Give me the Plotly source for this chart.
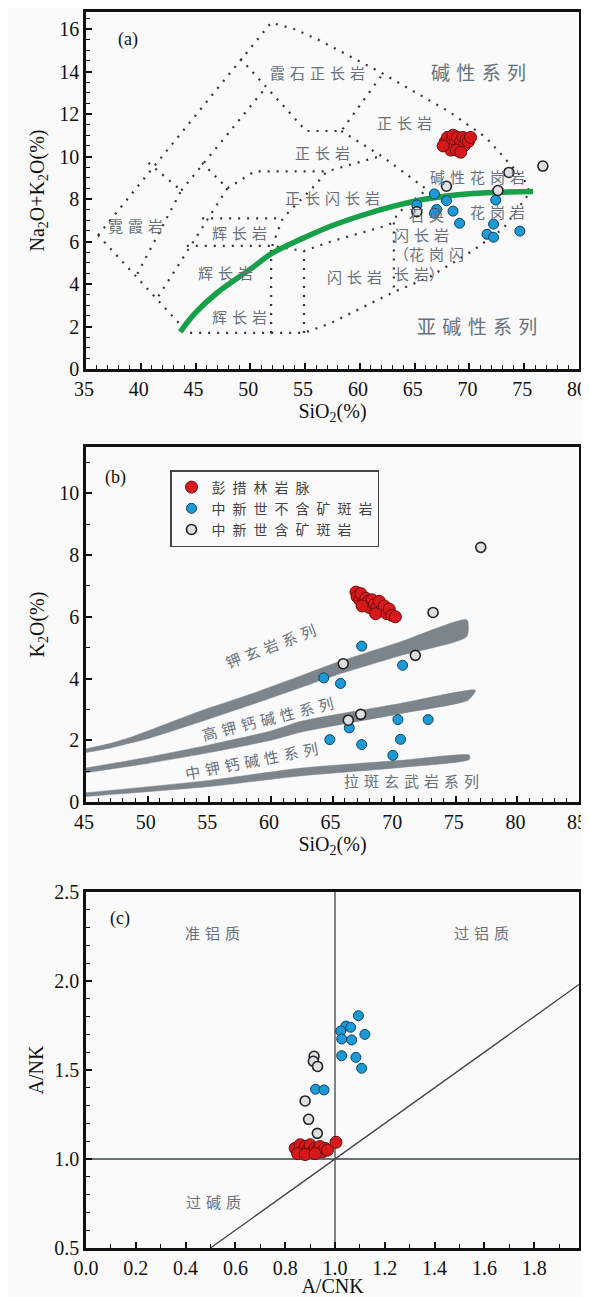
import plotly.graph_objects as go

# ---------------- Panel (a) TAS data ----------------
a_red_x = [67.8, 68.0, 68.2, 68.4, 68.5, 68.7, 68.9, 69.0, 69.2, 69.4, 69.5, 69.7, 69.9, 70.1, 68.3, 68.8, 69.2, 67.6]
a_red_y = [10.7, 10.9, 10.5, 10.8, 11.0, 10.6, 10.9, 10.4, 10.7, 10.9, 10.5, 10.8, 10.7, 10.9, 10.3, 10.3, 10.2, 10.5]
a_blue_x = [66.8, 65.2, 67.9, 67.0, 66.8, 68.5, 69.1, 72.4, 72.2, 71.6, 72.2, 74.6]
a_blue_y = [8.24, 7.72, 7.92, 7.51, 7.33, 7.43, 6.86, 7.95, 6.82, 6.34, 6.2, 6.49]
a_gray_x = [67.9, 72.6, 65.2, 73.6, 76.7]
a_gray_y = [8.6, 8.4, 7.4, 9.25, 9.55]

# TAS field boundaries (Wilson 1989, after Cox et al. 1979)
tas_lines = [
    [(36.1, 6.3), (51.9, 16.3), (54.0, 16.0), (56.3, 15.47), (62.1, 13.9), (68.2, 12.09),
     (71.5, 10.9), (73.4, 9.8), (75.0, 8.9), (75.5, 8.3)],
    [(36.1, 6.3), (44.3, 1.7), (54.9, 1.7), (57.3, 2.15), (63.2, 3.65), (66.4, 4.34),
     (70.4, 5.6), (73.1, 6.62), (75.5, 8.3)],
    [(40.7, 9.7), (43.7, 8.4), (39.6, 4.4)],
    [(43.7, 8.4), (51.5, 13.3)],
    [(49.1, 14.6), (55.1, 11.2), (58.3, 11.2), (62.1, 13.9)],
    [(45.6, 9.7), (47.9, 8.5), (50.4, 9.3), (56.8, 9.3)],
    [(47.9, 8.5), (41.4, 3.25)],
    [(45.6, 7.09), (52.95, 7.09)],
    [(44.2, 5.79), (52.0, 5.79), (54.9, 5.55), (57.3, 5.99), (62.1, 6.7), (63.1, 6.9)],
    [(51.9, 1.7), (51.9, 5.79)],
    [(54.9, 1.7), (54.9, 5.55)],
    [(63.1, 6.9), (63.1, 3.65)],
    [(52.0, 5.79), (52.95, 7.09), (56.0, 8.7), (57.0, 9.3), (62.1, 10.05)],
    [(58.3, 11.2), (62.1, 9.98), (66.1, 8.45), (63.4, 7.3), (63.1, 6.9)],
]
alk_curve_x = [43.6, 45.0, 47.0, 50.0, 52.0, 55.0, 57.5, 60.0, 63.0, 66.0, 70.0, 75.8]
alk_curve_y = [1.75, 2.65, 3.6, 4.7, 5.45, 6.2, 6.75, 7.2, 7.65, 8.0, 8.25, 8.35]

# ---------------- Panel (b) SiO2-K2O data ----------------
b_red_x = [66.9, 67.0, 67.2, 67.3, 67.5, 67.7, 67.9, 68.0, 68.2, 68.4, 68.6, 68.8, 69.0, 69.2, 69.4, 69.6, 69.8, 70.1, 67.4, 68.5]
b_red_y = [6.8, 6.65, 6.55, 6.75, 6.45, 6.6, 6.5, 6.3, 6.55, 6.4, 6.3, 6.5, 6.2, 6.35, 6.1, 6.25, 6.05, 6.0, 6.35, 6.1]
b_blue_x = [67.37, 70.69, 64.29, 65.65, 70.31, 72.76, 66.36, 64.78, 67.37, 70.52, 69.9]
b_blue_y = [5.05, 4.43, 4.02, 3.84, 2.67, 2.67, 2.40, 2.02, 1.86, 2.03, 1.51]
b_gray_x = [77.03, 73.16, 71.72, 65.87, 66.28, 67.29]
b_gray_y = [8.25, 6.14, 4.75, 4.48, 2.65, 2.84]

band1_up = [(45, 1.72), (47, 1.9), (48.5, 2.08), (50, 2.3), (54.3, 2.95), (58.4, 3.5), (62.5, 4.1), (65.2, 4.5), (70.6, 5.2), (75.9, 5.9)]
band1_lo = [(45, 1.6), (47, 1.75), (48.5, 1.9), (50, 2.05), (54.3, 2.6), (58.4, 3.15), (62.5, 3.72), (65.2, 4.1), (70.6, 4.75), (75.9, 5.36)]
band2_up = [(45, 1.1), (50, 1.45), (55, 1.85), (60, 2.3), (62.5, 2.62), (70.6, 3.2), (76.6, 3.62)]
band2_lo = [(45, 0.95), (50, 1.25), (55, 1.6), (60, 2.0), (62.5, 2.27), (70.6, 2.87), (76.0, 3.3)]
band3_up = [(45, 0.3), (55, 0.7), (62.5, 1.1), (70.6, 1.35), (76.1, 1.52)]
band3_lo = [(45, 0.18), (55, 0.5), (62.5, 0.85), (70.6, 1.12), (76.1, 1.38)]

# ---------------- Panel (c) A/CNK-A/NK data ----------------
c_red_x = [0.84, 0.86, 0.87, 0.88, 0.89, 0.90, 0.91, 0.92, 0.93, 0.94, 0.95, 0.96, 0.85, 0.88, 0.92, 0.97, 1.004]
c_red_y = [1.06, 1.08, 1.04, 1.07, 1.05, 1.08, 1.04, 1.06, 1.05, 1.07, 1.04, 1.06, 1.03, 1.025, 1.03, 1.05, 1.094]
c_blue_x = [1.094, 1.044, 1.063, 1.023, 1.12, 1.027, 1.067, 1.027, 1.084, 1.107, 0.922, 0.956]
c_blue_y = [1.805, 1.747, 1.74, 1.719, 1.70, 1.674, 1.669, 1.58, 1.571, 1.51, 1.392, 1.388]
c_gray_x = [0.916, 0.913, 0.93, 0.88, 0.894, 0.929]
c_gray_y = [1.577, 1.549, 1.52, 1.326, 1.223, 1.144]

names = ["彭\u2002措\u2002林\u2002岩\u2002脉", "中\u2002新\u2002世\u2002不\u2002含\u2002矿\u2002斑\u2002岩", "中\u2002新\u2002世\u2002含\u2002矿\u2002斑\u2002岩"]

RED = dict(color="#d7191c", line=dict(color="#6b0d0d", width=1))
BLUE = dict(color="#1b9ad6", line=dict(color="#0d4060", width=1))
GRAY = dict(color="#dde1e4", line=dict(color="#222222", width=1.6))

SERIF = "Liberation Serif, Times New Roman, serif"
CJK = "Noto Sans CJK SC"
LBL = "#68717a"
sp = "\u2004"

def spaced(s):
    return sp.join(list(s))

fig = go.Figure()

# ---- (a) ----
lx, ly = [], []
for seg in tas_lines:
    for p in seg:
        lx.append(p[0]); ly.append(p[1])
    lx.append(None); ly.append(None)
fig.add_trace(go.Scatter(x=lx, y=ly, mode="lines", xaxis="x", yaxis="y", showlegend=False,
                         line=dict(color="#333", width=2.2, dash="2px,7px"), hoverinfo="skip"))
fig.add_trace(go.Scatter(x=alk_curve_x, y=alk_curve_y, mode="lines", xaxis="x", yaxis="y", showlegend=False,
                         line=dict(color="#16a049", width=5.5, shape="spline")))
fig.add_trace(go.Scatter(x=a_blue_x, y=a_blue_y, mode="markers", xaxis="x", yaxis="y", showlegend=False,
                         marker=dict(size=10, **BLUE)))
fig.add_trace(go.Scatter(x=a_gray_x, y=a_gray_y, mode="markers", xaxis="x", yaxis="y", showlegend=False,
                         marker=dict(size=10, **GRAY)))
fig.add_trace(go.Scatter(x=a_red_x, y=a_red_y, mode="markers", xaxis="x", yaxis="y", showlegend=False,
                         marker=dict(size=12, **RED)))

# ---- (b) ----
for up, lo in [(band1_up, band1_lo), (band2_up, band2_lo), (band3_up, band3_lo)]:
    px = [p[0] for p in up] + [p[0] for p in lo[::-1]]
    py = [p[1] for p in up] + [p[1] for p in lo[::-1]]
    fig.add_trace(go.Scatter(x=px, y=py, mode="lines", fill="toself", fillcolor="#7c858c",
                             line=dict(color="#7c858c", width=0.5, shape="spline", smoothing=0.6),
                             xaxis="x2", yaxis="y2", showlegend=False, hoverinfo="skip"))
fig.add_trace(go.Scatter(x=b_red_x, y=b_red_y, mode="markers", xaxis="x2", yaxis="y2", name=names[0],
                         marker=dict(size=12, **RED), legendrank=1))
fig.add_trace(go.Scatter(x=b_blue_x, y=b_blue_y, mode="markers", xaxis="x2", yaxis="y2", name=names[1],
                         marker=dict(size=10, **BLUE), legendrank=2))
fig.add_trace(go.Scatter(x=b_gray_x, y=b_gray_y, mode="markers", xaxis="x2", yaxis="y2", name=names[2],
                         marker=dict(size=10, **GRAY), legendrank=3))

# ---- (c) ----
fig.add_trace(go.Scatter(x=[0, 1.98, None, 1.0, 1.0, None, 0.5, 1.98],
                         y=[1.0, 1.0, None, 0.5, 2.5, None, 0.5, 1.98], mode="lines",
                         line=dict(color="#3d4347", width=1.3), xaxis="x3", yaxis="y3",
                         showlegend=False, hoverinfo="skip"))
fig.add_trace(go.Scatter(x=c_gray_x, y=c_gray_y, mode="markers", xaxis="x3", yaxis="y3", showlegend=False,
                         marker=dict(size=10, **GRAY)))
fig.add_trace(go.Scatter(x=c_blue_x, y=c_blue_y, mode="markers", xaxis="x3", yaxis="y3", showlegend=False,
                         marker=dict(size=10, **BLUE)))
fig.add_trace(go.Scatter(x=c_red_x, y=c_red_y, mode="markers", xaxis="x3", yaxis="y3", showlegend=False,
                         marker=dict(size=12, **RED)))

# the page adds an 8px body margin; the figure is sized so that it fits the window
OFF = 8
W, H = 589 - OFF, 1297 - OFF

def fx(p):
    return (p - OFF) / W

def fy(p):
    return 1 - (p - OFF) / H

xdom = [fx(86), fx(579)]

def ydom(top, bot):
    return [fy(bot), fy(top)]

def axis(dom, rng, dtick, mdtick, tick0=None, fmt=None, title=None, standoff=8, anchor=None, shift=0):
    d = dict(domain=dom, range=rng, dtick=dtick, showgrid=False, zeroline=False, automargin=False,
             showline=True, linecolor="#111", linewidth=2.5, mirror=True,
             ticks="inside", ticklen=6, tickwidth=1.6, tickcolor="#111",
             tickfont=dict(family=SERIF, size=20, color="#111"),
             minor=dict(dtick=mdtick, ticks="inside", ticklen=4, tickwidth=1.4, tickcolor="#111", showgrid=False),
             anchor=anchor)
    if shift:
        d["ticklabelshift"] = shift
    if tick0 is not None:
        d["tick0"] = tick0
    if fmt:
        d["tickformat"] = fmt
    if title:
        d["title"] = dict(text=title, standoff=standoff, font=dict(family=SERIF, size=20, color="#111"))
    return d

fig.update_layout(
    width=W, height=H, margin=dict(l=0, r=0, t=0, b=0, autoexpand=False),
    paper_bgcolor="#fafafa", plot_bgcolor="#fafafa",
    xaxis=axis(xdom, [35, 80], 5, 1, tick0=35, title="SiO<sub>2</sub>(%)", standoff=4, anchor="y", shift=-2),
    yaxis=axis(ydom(12, 369), [0, 16.8], 2, 0.5, tick0=0, title="Na<sub>2</sub>O+K<sub>2</sub>O(%)", standoff=10, anchor="x"),
    xaxis2=axis(xdom, [45, 85], 5, 1, tick0=45, title="SiO<sub>2</sub>(%)", standoff=4, anchor="y2", shift=-2),
    yaxis2=axis(ydom(447, 802), [0, 11.5], 2, 1, tick0=0, title="K<sub>2</sub>O(%)", standoff=10, anchor="x2"),
    xaxis3=axis(xdom, [0, 1.98], 0.2, 0.1, tick0=0, fmt=".1f", title="A/CNK", standoff=9, anchor="y3"),
    yaxis3=axis(ydom(892, 1248), [0.5, 2.5], 0.5, 0.1, tick0=0.5, fmt=".1f", title="A/NK", standoff=6, anchor="x3"),
    legend=dict(x=fx(170), y=fy(470), xanchor="left", yanchor="top",
                bgcolor="#fafafa", bordercolor="#444", borderwidth=1.5,
                font=dict(family=CJK, size=14, color="#444"), itemsizing="trace"),
    showlegend=True,
)

ann = []
def add(text, x, y, ref, size=15, color=LBL, family=CJK, angle=0, xanchor="center", align="center"):
    ann.append(dict(text=text, x=x, y=y, xref="x" + ref if ref else "x", yref="y" + ref if ref else "y",
                    showarrow=False, textangle=angle, xanchor=xanchor, align=align,
                    font=dict(family=family, size=size, color=color)))

# (a) labels
add("(a)", 38.8, 15.5, "", size=18, color="#111", family=SERIF)
add(spaced("霞石正长岩"), 56.1, 13.93, "")
add(spaced("碱性系列"), 70.8, 14.0, "", size=19)
add(spaced("正长岩"), 64.1, 11.6, "")
add(spaced("正长岩"), 56.6, 10.2, "")
add(spaced("正长闪长岩"), 57.5, 8.05, "")
add(spaced("碱性花岗岩"), 70.7, 9.08, "")
add(spaced("霓霞岩"), 39.5, 6.73, "")
add(spaced("辉长岩"), 49.05, 6.4, "")
add(spaced("辉长岩"), 47.7, 4.56, "")
add(spaced("辉长岩"), 49.05, 2.45, "")
add(spaced("闪长岩"), 59.55, 4.33, "")
add(spaced("花岗岩"), 72.6, 7.39, "")
add("\u2003" + spaced("石英") + "<br>" + spaced("闪长岩") + "<br>（" + spaced("花岗闪") + "<br>" + spaced("长岩") + "）",
    62.9, 5.9, "", xanchor="left", align="left")
add(spaced("亚碱性系列"), 70.7, 2.07, "", size=19)

# (b) labels
add("(b)", 47.4, 10.5, "2", size=18, color="#111", family=SERIF)
add(spaced("钾玄岩系列"), 60.0, 5.08, "2", angle=-21)
add(spaced("高钾钙碱性系列"), 59.7, 2.72, "2", angle=-14)
add(spaced("中钾钙碱性系列"), 58.4, 1.36, "2", angle=-11)
add(spaced("拉斑玄武岩系列"), 71.4, 0.70, "2")

# (c) labels
add("(c)", 0.137, 2.35, "3", size=18, color="#111", family=SERIF)
add(spaced("准铝质"), 0.51, 2.27, "3")
add(spaced("过铝质"), 1.589, 2.27, "3")
add(spaced("过碱质"), 0.511, 0.76, "3")

fig.update_layout(annotations=ann)
fig.write_html("out.html")
